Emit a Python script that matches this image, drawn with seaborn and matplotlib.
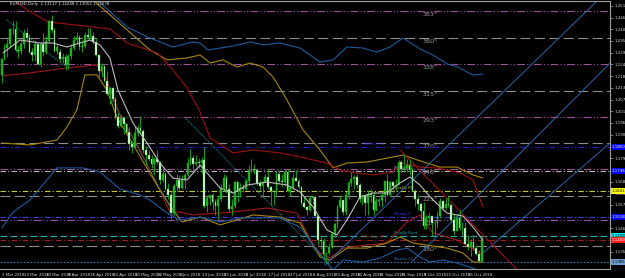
import matplotlib
matplotlib.use("Agg")
import matplotlib.pyplot as plt
import seaborn as sns
import pandas as pd
import numpy as np

# ---------------- data ----------------
opens = [1.2193,1.2268,1.2317,1.2337,1.2408,1.2411,1.2312,1.2307,1.2336,1.2390,
         1.2369,1.2301,1.2288,1.2336,1.2244,1.2340,1.2300,1.2352,1.2448,1.2404,
         1.2306,1.2302,1.2268,1.2278,1.2240,1.2281,1.2320,1.2355,1.2370,1.2325,
         1.2330,1.2380,1.2373,1.2376,1.2346,1.2287,1.2210,1.2233,1.2165,1.2100,
         1.2128,1.2078,1.1990,1.1950,1.1988,1.1960,1.1923,1.1864,1.1850,1.1917,
         1.1940,1.1925,1.1836,1.1810,1.1795,1.1770,1.1792,1.1779,1.1695,1.1722,
         1.1653,1.1625,1.1537,1.1663,1.1693,1.1658,1.1694,1.1718,1.1775,1.1800,
         1.1769,1.1779,1.1775,1.1790,1.1570,1.1610,1.1623,1.1590,1.1571,1.1605,
         1.1657,1.1702,1.1650,1.1555,1.1570,1.1684,1.1635,1.1656,1.1650,1.1689,
         1.1743,1.1747,1.1740,1.1679,1.1664,1.1686,1.1710,1.1661,1.1641,1.1635,
         1.1720,1.1690,1.1684,1.1733,1.1640,1.1658,1.1705,1.1691,1.1661,1.1585,
         1.1568,1.1552,1.1608,1.1612,1.1525,1.1411,1.1405,1.1344,1.1350,1.1375,
         1.1437,1.1485,1.1568,1.1597,1.1540,1.1625,1.1678,1.1700,1.1706,1.1670,
         1.1602,1.1619,1.1583,1.1629,1.1624,1.1551,1.1594,1.1601,1.1625,1.1689,
         1.1624,1.1685,1.1665,1.1672,1.1777,1.1744,1.1749,1.1766,1.1739,1.1642,
         1.1606,1.1578,1.1547,1.1478,1.1514,1.1524,1.1490,1.1489,1.1523,1.1595,
         1.1560,1.1580,1.1575,1.1502,1.1452,1.1512,1.1466,1.1468,1.1392,1.1374,
         1.1400,1.1371,1.1345,1.1312]
highs = [1.2273,1.2336,1.2364,1.2412,1.2446,1.2446,1.2330,1.2355,1.2410,1.2413,
         1.2385,1.2320,1.2355,1.2340,1.2350,1.2388,1.2375,1.2450,1.2476,1.2412,
         1.2336,1.2313,1.2295,1.2290,1.2292,1.2337,1.2378,1.2396,1.2380,1.2355,
         1.2395,1.2414,1.2413,1.2397,1.2365,1.2290,1.2250,1.2238,1.2208,1.2134,
         1.2135,1.2085,1.2010,1.2007,1.1995,1.1966,1.1945,1.1880,1.1950,1.1955,
         1.1997,1.1935,1.1853,1.1834,1.1810,1.1803,1.1835,1.1784,1.1750,1.1730,
         1.1680,1.1640,1.1675,1.1720,1.1717,1.1719,1.1724,1.1796,1.1840,1.1810,
         1.1814,1.1797,1.1805,1.1852,1.1625,1.1625,1.1630,1.1605,1.1623,1.1677,
         1.1720,1.1718,1.1673,1.1605,1.1691,1.1688,1.1679,1.1675,1.1700,1.1764,
         1.1791,1.1770,1.1747,1.1695,1.1690,1.1720,1.1745,1.1665,1.1645,1.1740,
         1.1740,1.1720,1.1747,1.1746,1.1665,1.1725,1.1740,1.1700,1.1667,1.1612,
         1.1575,1.1620,1.1620,1.1620,1.1532,1.1432,1.1420,1.1350,1.1395,1.1445,
         1.1490,1.1574,1.1622,1.1600,1.1640,1.1690,1.1733,1.1718,1.1720,1.1680,
         1.1625,1.1625,1.1645,1.1650,1.1643,1.1610,1.1610,1.1632,1.1690,1.1720,
         1.1688,1.1690,1.1700,1.1788,1.1790,1.1816,1.1794,1.1795,1.1752,1.1650,
         1.1625,1.1590,1.1590,1.1530,1.1542,1.1525,1.1502,1.1541,1.1610,1.1598,
         1.1607,1.1621,1.1580,1.1532,1.1527,1.1550,1.1493,1.1495,1.1432,1.1416,
         1.1434,1.1385,1.1360,1.1424]
lows = [1.2155,1.2264,1.2275,1.2325,1.2386,1.2300,1.2272,1.2290,1.2320,1.2358,
        1.2296,1.2258,1.2260,1.2240,1.2230,1.2280,1.2290,1.2342,1.2390,1.2300,
        1.2290,1.2255,1.2250,1.2215,1.2218,1.2265,1.2310,1.2337,1.2310,1.2300,
        1.2320,1.2360,1.2363,1.2337,1.2280,1.2183,1.2180,1.2160,1.2096,1.2055,
        1.2068,1.1985,1.1938,1.1945,1.1910,1.1910,1.1838,1.1822,1.1840,1.1902,
        1.1915,1.1820,1.1763,1.1783,1.1749,1.1716,1.1770,1.1675,1.1685,1.1645,
        1.1603,1.1510,1.1528,1.1642,1.1644,1.1650,1.1650,1.1713,1.1765,1.1728,
        1.1760,1.1750,1.1722,1.1562,1.1542,1.1573,1.1553,1.1530,1.1508,1.1595,
        1.1643,1.1630,1.1540,1.1527,1.1563,1.1590,1.1615,1.1636,1.1644,1.1672,
        1.1730,1.1720,1.1670,1.1640,1.1615,1.1683,1.1650,1.1575,1.1575,1.1622,
        1.1680,1.1660,1.1665,1.1637,1.1620,1.1650,1.1690,1.1650,1.1575,1.1560,
        1.1530,1.1545,1.1580,1.1522,1.1385,1.1365,1.1330,1.1301,1.1340,1.1373,
        1.1423,1.1468,1.1560,1.1528,1.1530,1.1605,1.1665,1.1650,1.1655,1.1590,
        1.1575,1.1530,1.1526,1.1590,1.1530,1.1545,1.1570,1.1568,1.1590,1.1620,
        1.1620,1.1630,1.1640,1.1668,1.1730,1.1730,1.1730,1.1718,1.1640,1.1570,
        1.1550,1.1505,1.1463,1.1463,1.1480,1.1430,1.1432,1.1466,1.1514,1.1550,
        1.1558,1.1565,1.1493,1.1433,1.1450,1.1455,1.1432,1.1390,1.1360,1.1335,
        1.1360,1.1340,1.1301,1.1305]
closes = [1.2268,1.2317,1.2337,1.2408,1.2411,1.2312,1.2307,1.2336,1.2390,1.2369,
          1.2301,1.2288,1.2336,1.2244,1.2340,1.2300,1.2352,1.2448,1.2404,1.2306,
          1.2322,1.2268,1.2278,1.2240,1.2281,1.2320,1.2355,1.2370,1.2325,1.2330,
          1.2380,1.2373,1.2376,1.2346,1.2287,1.2210,1.2233,1.2165,1.2100,1.2128,
          1.2078,1.1990,1.1950,1.1988,1.1960,1.1923,1.1864,1.1850,1.1917,1.1940,
          1.1925,1.1836,1.1810,1.1795,1.1770,1.1792,1.1779,1.1695,1.1722,1.1653,
          1.1625,1.1537,1.1663,1.1693,1.1658,1.1694,1.1718,1.1775,1.1800,1.1769,
          1.1779,1.1775,1.1790,1.1570,1.1610,1.1623,1.1590,1.1571,1.1605,1.1657,
          1.1702,1.1650,1.1555,1.1570,1.1684,1.1635,1.1656,1.1650,1.1689,1.1743,
          1.1747,1.1740,1.1679,1.1664,1.1686,1.1710,1.1661,1.1641,1.1635,1.1720,
          1.1690,1.1684,1.1733,1.1640,1.1658,1.1705,1.1691,1.1661,1.1585,1.1568,
          1.1552,1.1608,1.1612,1.1525,1.1411,1.1405,1.1344,1.1350,1.1375,1.1437,
          1.1485,1.1568,1.1597,1.1540,1.1625,1.1678,1.1700,1.1706,1.1670,1.1602,
          1.1619,1.1583,1.1629,1.1624,1.1551,1.1594,1.1601,1.1625,1.1689,1.1624,
          1.1685,1.1665,1.1672,1.1777,1.1744,1.1749,1.1766,1.1739,1.1642,1.1606,
          1.1578,1.1547,1.1478,1.1514,1.1524,1.1490,1.1489,1.1523,1.1595,1.1560,
          1.1580,1.1575,1.1502,1.1452,1.1512,1.1466,1.1468,1.1392,1.1374,1.1400,
          1.1371,1.1345,1.1312,1.1408]

date_labels = ["1 Mar 2018", "13 Mar 2018", "23 Mar 2018", "6 Apr 2018", "18 Apr 2018",
               "30 Apr 2018", "10 May 2018", "22 May 2018", "1 Jun 2018", "13 Jun 2018",
               "25 Jun 2018", "5 Jul 2018", "17 Jul 2018", "27 Jul 2018", "8 Aug 2018",
               "20 Aug 2018", "30 Aug 2018", "11 Sep 2018", "21 Sep 2018", "3 Oct 2018",
               "15 Oct 2018", "25 Oct 2018"]
bars_per_label = 8

price_ticks = [1.25190, 1.24635, 1.24080, 1.23525, 1.22970, 1.22415, 1.21860, 1.21305,
               1.20750, 1.20195, 1.19640, 1.19085, 1.18530, 1.17975, 1.17420, 1.16865,
               1.16310, 1.15755, 1.15200, 1.14645, 1.14090, 1.13535, 1.12980]

# envelope bands (bar index, price)
blue_up_x = [0, 21, 31.8, 34.3, 45.2, 52.4, 57, 61.7, 68.9, 71.5, 74.3, 78.7, 83.4, 89.5, 94.2,
             100.3, 107.5, 114.7, 119.4, 124.4, 130.2, 135.2, 139.9, 144.6, 150.7, 155.4,
             160.5, 164.4, 169.8, 173.4]
blue_up_y = [1.2831, 1.2784, 1.2594, 1.2547, 1.2419, 1.2372, 1.2348, 1.2324, 1.2348, 1.2343,
             1.2310, 1.2319, 1.2329, 1.2348, 1.2334, 1.2343, 1.2319, 1.2253, 1.2263, 1.2324,
             1.2319, 1.2300, 1.2324, 1.2367, 1.2315, 1.2286, 1.2244, 1.2229, 1.2191, 1.2196]
yellow_up_x = [0, 21, 32.9, 45.2, 53.4, 59.6, 66.8, 71.5, 75.1, 79.7, 84.8, 89.5, 94.2, 97.8,
               102.8, 108.6, 114.7, 119.4, 124.4, 131.6, 141, 144.6, 149.7, 157.9, 164.1,
               169.8, 173.4]
yellow_up_y = [1.2737, 1.2689, 1.2547, 1.2405, 1.2310, 1.2263, 1.2272, 1.2286, 1.2248, 1.2263,
               1.2229, 1.2248, 1.2229, 1.2182, 1.2073, 1.1931, 1.1836, 1.1751, 1.1774, 1.1779,
               1.1803, 1.1812, 1.1789, 1.1755, 1.1755, 1.1718, 1.1703]
red_up_x = [0, 9.1, 16.7, 39, 45.2, 56, 61.7, 66.8, 71.5, 75.1, 83.4, 90.6, 100.3, 107.5,
            117.2, 121.9, 128, 133.8, 141, 144.6, 150.7, 156.9, 165.2, 169.8, 173.4]
red_up_y = [1.2594, 1.2500, 1.2443, 1.2410, 1.2343, 1.2296, 1.2215, 1.2130, 1.2016, 1.1893,
            1.1822, 1.1836, 1.1822, 1.1803, 1.1774, 1.1741, 1.1727, 1.1718, 1.1732, 1.1774,
            1.1755, 1.1751, 1.1727, 1.1694, 1.1566]
red_lo_x = [0, 10.2, 23.5, 34.3, 37.9, 42.6, 49.8, 57, 60.6, 64.2, 68.9, 83.4, 95.6, 106.4,
            111.1, 114.7, 118.3, 123, 131.6, 138.8, 146.1, 150.7, 155.4, 164.1, 168.7, 173.4]
red_lo_y = [1.2187, 1.2201, 1.2225, 1.2239, 1.2168, 1.2002, 1.1836, 1.1646, 1.1542, 1.1542,
            1.1528, 1.1542, 1.1561, 1.1537, 1.1409, 1.1348, 1.1324, 1.1371, 1.1386, 1.1395,
            1.1495, 1.1528, 1.1443, 1.1409, 1.1376, 1.1338]
yellow_lo_x = [0, 10.2, 19.9, 23.5, 27.1, 28.9, 30, 34.3, 37.9, 41.5, 57, 61.7, 65, 71.5,
               78.7, 90.6, 100.3, 107.5, 111.1, 114.7, 118.3, 124.4, 131.6, 138.8, 143.5,
               148.2, 160.5, 166.2, 169.8, 173.4]
yellow_lo_y = [1.1869, 1.1860, 1.1883, 1.1945, 1.2026, 1.2130, 1.2192, 1.2192, 1.2120, 1.1992,
               1.1646, 1.1552, 1.1495, 1.1518, 1.1481, 1.1528, 1.1518, 1.1490, 1.1409, 1.1329,
               1.1315, 1.1371, 1.1371, 1.1395, 1.1424, 1.1395, 1.1371, 1.1348, 1.1305, 1.1305]
blue_lo_x = [0, 4.1, 10.2, 16.3, 19.9, 29.3, 35.4, 42.6, 49.8, 53.4, 59.6, 64.3, 71.5, 78.7,
             85.9, 100.3, 107.5, 113.6, 117.2, 119.4, 123, 130.2, 136.3, 142.5, 146.1, 150.7,
             154.3, 159, 164.1, 168.7, 173.4]
blue_lo_y = [1.1466, 1.1542, 1.1599, 1.1694, 1.1751, 1.1751, 1.1732, 1.1651, 1.1623, 1.1599,
             1.1537, 1.1504, 1.1518, 1.1495, 1.1514, 1.1514, 1.1471, 1.1362, 1.1300, 1.1267,
             1.1315, 1.1305, 1.1324, 1.1362, 1.1371, 1.1329, 1.1305, 1.1315, 1.1300, 1.1281,
             1.1258]
ma_x = [0.5, 6.6, 13.8, 18.5, 23.5, 28.2, 31.8, 35.4, 39, 41.9, 47.3, 52.4, 57, 61.7, 66.8,
        71.5, 78.7, 83.4, 88.4, 95.6, 102.8, 107.5, 112.2, 117.2, 120.8, 124.4, 129.1, 133.8,
        138.8, 143.5, 147.1, 150.7, 155.4, 160.5, 166.2, 169.8, 173.4]
ma_y = [1.2296, 1.2357, 1.2343, 1.2343, 1.2324, 1.2343, 1.2357, 1.2334, 1.2272, 1.2120,
        1.1964, 1.1869, 1.1774, 1.1703, 1.1694, 1.1765, 1.1656, 1.1632, 1.1670, 1.1684,
        1.1670, 1.1637, 1.1566, 1.1457, 1.1433, 1.1504, 1.1613, 1.1632, 1.1632, 1.1680,
        1.1708, 1.1670, 1.1599, 1.1537, 1.1523, 1.1471, 1.1409]

# Gann square-of-nine levels
gann_levels = [1.24949, 1.23669, 1.22436, 1.21157, 1.19924, 1.18692, 1.17459, 1.16180,
               1.15042, 1.13810]
gann_labels = ["383°", "360°", "338°", "315°", "293°", "270°", "248°", "225°", "203°", "180°"]

# pivot levels
pivot_levels = [1.18502, 1.17365, 1.16417, 1.15184, 1.14284, 1.14094, 1.13051]
pivot_names = ["Monthly R1", "Weekly R2", "Weekly R1", "Weekly P", "Weekly Pivot",
               "Monthly PP", "Weekly S1"]

# trend / fan lines (bar, price endpoints)
fan_a_x = [116.5, 220.0]
fan_a_y = [1.1291, 1.2612]
fan_b_x = [147.7, 220.0]
fan_b_y = [1.1305, 1.2258]
fan_c_x = [173.4, 220.0]
fan_c_y = [1.1348, 1.1878]
red_trend_x = [143.5, 186.0]
red_trend_y = [1.1836, 1.1265]
teal_a_x = [1.9, 23.5]
teal_a_y = [1.2452, 1.2225]
teal_b_x = [37.9, 63.5]
teal_b_y = [1.2120, 1.1495]
teal_c_x = [66.0, 118.3]
teal_c_y = [1.1990, 1.1291]

title_text = "EURUSD,Daily  1.13117 1.14248 1.13052 1.14078"

# ---------------- styling ----------------
sns.set_theme(style="dark")
plt.rcParams['font.family'] = ['DejaVu Sans']

BG = "#000000"
fig = plt.figure(figsize=(6.25, 2.78), dpi=100, facecolor=BG)
ax = fig.add_axes([0.0, 9 / 278, 610 / 625, 268 / 278], facecolor=BG)

n = len(closes)
xs = np.arange(n)
df = pd.DataFrame({"x": xs, "o": opens, "h": highs, "l": lows, "c": closes})

# horizontal levels
gann_styles = [("#9b4f9b", (0, (7, 2, 1, 2, 1, 2))), ("#8c8c8c", (0, (9, 4)))]
for i, lv in enumerate(gann_levels):
    col, ls = gann_styles[i % 2]
    ax.axhline(lv, color=col, lw=0.8, ls=ls, zorder=1)
    ax.text(151.5, lv - 0.0006, gann_labels[i], color="#9a9a9a", fontsize=4.6,
            ha="left", va="top", zorder=1)

pivot_cols = ["#2323c8", "#b4b4b4", "#c8c832", "#3c3cdc", "#1eb4b4", "#a01e1e", "#3c78b4"]
pivot_ls = [(0, (5, 2, 1, 2, 1, 2)), (0, (5, 2, 1, 2)), (0, (5, 2, 1, 2)), (0, (5, 2, 1, 2)),
            (0, (6, 3)), (0, (5, 2, 1, 2)), (0, (1.5, 1.5))]
label_x = [130.5, 141.5, 141.5, 141.5, 141.5, 130.5, 141.5]
for lv, col, ls, nm, lx in zip(pivot_levels, pivot_cols, pivot_ls, pivot_names, label_x):
    ax.axhline(lv, color=col, lw=0.8, ls=ls, zorder=1)
    ax.text(lx, lv + 0.0003, nm, color=col, fontsize=2.6, ha="left", va="bottom", zorder=1)

# bands
band_specs = [
    (blue_up_x, blue_up_y, "#1c5a9c"),
    (yellow_up_x, yellow_up_y, "#a8860a"),
    (red_up_x, red_up_y, "#9c1010"),
    (red_lo_x, red_lo_y, "#a01818"),
    (yellow_lo_x, yellow_lo_y, "#a8860a"),
    (blue_lo_x, blue_lo_y, "#1c5a9c"),
]
for bx, by, col in band_specs:
    sns.lineplot(x=bx, y=by, ax=ax, color=col, lw=0.8, estimator=None, sort=False, zorder=2)

# fan lines
for fx, fy in [(fan_a_x, fan_a_y), (fan_b_x, fan_b_y), (fan_c_x, fan_c_y)]:
    sns.lineplot(x=fx, y=fy, ax=ax, color="#2a66a6", lw=0.7, estimator=None, sort=False, zorder=2)
sns.lineplot(x=red_trend_x, y=red_trend_y, ax=ax, color="#b01010", lw=0.7,
             estimator=None, sort=False, zorder=2)
for tx, ty in [(teal_a_x, teal_a_y), (teal_b_x, teal_b_y), (teal_c_x, teal_c_y)]:
    sns.lineplot(x=tx, y=ty, ax=ax, color="#1a7f8f", lw=0.8, ls=(0, (1, 1)),
                 estimator=None, sort=False, zorder=2)

# candles
up = df["c"] >= df["o"]
ax.vlines(df["x"], df["l"], df["h"], color="#139a13", lw=0.7, zorder=3)
body_bottom = np.minimum(df["o"], df["c"])
body_h = np.maximum(np.abs(df["c"] - df["o"]), 0.00008)
ax.bar(df["x"][up], body_h[up], bottom=body_bottom[up], width=0.62,
       color="#1fb01f", edgecolor="#1fb01f", lw=0.3, zorder=4)
ax.bar(df["x"][~up], body_h[~up], bottom=body_bottom[~up], width=0.62,
       color="#e6ffe6", edgecolor="#29b029", lw=0.3, zorder=4)

# moving average
sns.lineplot(x=ma_x, y=ma_y, ax=ax, color="#bdbdbd", lw=0.8, estimator=None, sort=False, zorder=5)

# axes
ax.set_xlim(-0.61, 219.2)
ax.set_ylim(1.1272, 1.2542)
ax.set_xlabel("")
ax.set_ylabel("")
ax.grid(False)
tick_pos = list(range(0, bars_per_label * len(date_labels), bars_per_label))
ax.set_xticks(tick_pos)
ax.set_xticklabels(date_labels, fontsize=2.9, color="#d8d8d8", ha="left")
ax.yaxis.tick_right()
ax.set_yticks(price_ticks)
ax.set_yticklabels([f"{p:.5f}" for p in price_ticks], fontsize=2.9, color="#d8d8d8")
ax.tick_params(axis="x", length=2, width=0.5, color="#a0a0a0", pad=1)
ax.tick_params(axis="y", length=2, width=0.5, color="#a0a0a0", pad=1)
ax.spines["left"].set_visible(False)
for side in ["right", "bottom", "top"]:
    ax.spines[side].set_color("#a0a0a0")
    ax.spines[side].set_linewidth(0.8)

# right axis price boxes
box_face = ["#0000f0", "#0000f0", "#ffff00", "#0000f0", "#00e8e8", "#ff2020", "#6a9cd0"]
box_txt = ["white", "white", "black", "white", "black", "white", "black"]
for lv, fc, tc in zip(pivot_levels, box_face, box_txt):
    ax.text(1.003, lv, f"{lv:.5f}", transform=ax.get_yaxis_transform(), fontsize=2.9,
            color=tc, ha="left", va="center",
            bbox=dict(boxstyle="square,pad=0.25", fc=fc, ec="none"), clip_on=False, zorder=6)

ax.text(0.016, 0.997, title_text, transform=ax.transAxes, fontsize=2.9, color="#e0e0e0",
        ha="left", va="top")

fig.savefig("out.png", dpi=100, facecolor=BG)
